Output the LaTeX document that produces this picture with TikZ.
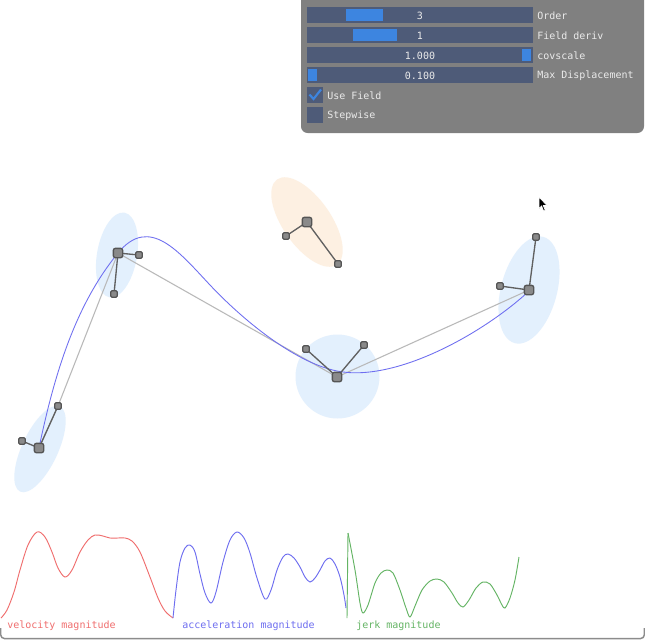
\documentclass[tikz,border=0pt]{standalone}
\usepackage{fontspec}
\newfontfamily\guifont{DejaVu Sans Mono}
\usetikzlibrary{shapes.geometric}
\definecolor{panelgray}{RGB}{128,128,128}
\definecolor{framebg}{RGB}{78,91,120}
\definecolor{grab}{RGB}{61,133,224}
\definecolor{guitext}{RGB}{235,235,235}
\definecolor{covblue}{RGB}{227,240,253}
\definecolor{covorange}{RGB}{253,240,226}
\definecolor{ptfill}{RGB}{138,138,138}
\definecolor{ptdraw}{RGB}{85,85,85}
\definecolor{handleline}{RGB}{96,96,96}
\definecolor{polyline}{RGB}{185,185,185}
\definecolor{curveblue}{RGB}{110,110,240}
\definecolor{velred}{RGB}{240,110,110}
\definecolor{accblue}{RGB}{110,110,240}
\definecolor{jerkgreen}{RGB}{100,180,100}
\definecolor{framegray}{RGB}{140,140,140}
\begin{document}
\begin{tikzpicture}[x=0.75pt,y=-0.75pt,
  cov/.style={ellipse, draw=none, inner sep=0},
  bigpt/.style={draw=ptdraw, fill=ptfill, line width=1pt, rounded corners=1.5pt, minimum size=7pt, inner sep=0},
  smallpt/.style={draw=ptdraw, fill=ptfill, line width=0.9pt, rounded corners=1pt, minimum size=5pt, inner sep=0},
  hline/.style={draw=handleline, line width=1pt},
  bar/.style={fill=framebg},
  grabbox/.style={fill=grab},
  valtext/.style={font=\guifont\fontsize{7.5}{9}\selectfont, text=guitext, inner sep=0},
  lbltext/.style={font=\guifont\fontsize{7.5}{9}\selectfont, text=guitext, inner sep=0, anchor=west},
  plotlbl/.style={font=\guifont\fontsize{7.5}{9}\selectfont, inner sep=0, anchor=west},
  plotline/.style={line width=0.7pt}
]
\useasboundingbox (0,0) rectangle (645,640);
\fill[white] (0,0) rectangle (645,640);

% ---------- GUI panel ----------
\fill[panelgray, rounded corners=5pt] (301,-12) rectangle (644,133);
\fill[bar] (307,7) rectangle (533,23);
\fill[grabbox] (346,9) rectangle (383,21);
\node[valtext] (v1) at (420,15.5) {3};
\node[lbltext] (l1) at (537,15.5) {Order};
\fill[bar] (307,27) rectangle (533,43);
\fill[grabbox] (353,29) rectangle (397,41);
\node[valtext] (v2) at (420,35.5) {1};
\node[lbltext] (l2) at (537,35.5) {Field deriv};
\fill[bar] (307,47) rectangle (533,63);
\fill[grabbox] (522,49) rectangle (531,61);
\node[valtext] (v3) at (420,55.5) {1.000};
\node[lbltext] (l3) at (537,55.5) {covscale};
\fill[bar] (307,67) rectangle (533,83);
\fill[grabbox] (308,69) rectangle (317,81);
\node[valtext] (v4) at (420,75.5) {0.100};
\node[lbltext] (l4) at (537,75.5) {Max Displacement};
\fill[bar] (307,87) rectangle (323,103);
\draw[grab, line width=1.6pt] (309.5,94.5) -- (313.5,99) -- (321,89.5);
\node[lbltext] (l5) at (327,95.5) {Use Field};
\fill[bar] (307,107) rectangle (323,123);
\node[lbltext] (l6) at (327,115.5) {Stepwise};

% ---------- covariance ellipses ----------
\node[cov, fill=covblue, minimum width=70.5pt, minimum height=27pt, rotate=65] (eA) at (40,449) {};
\node[cov, fill=covblue, minimum width=64.5pt, minimum height=30pt, rotate=80] (eB) at (117,255) {};
\node[cov, fill=covorange, minimum width=78pt, minimum height=36pt, rotate=-55] (eC) at (307,222) {};
\node[circle, fill=covblue, minimum size=63pt, inner sep=0] (eD) at (337.5,376.5) {};
\node[cov, fill=covblue, minimum width=82.5pt, minimum height=42pt, rotate=75] (eE) at (529,290) {};

% ---------- point coordinates ----------
\coordinate (pA) at (39,448);
\coordinate (pB) at (118,253);
\coordinate (pC) at (307,222);
\coordinate (pD) at (337,377);
\coordinate (pE) at (529,290);
\coordinate (hA1) at (22,441);
\coordinate (hA2) at (58,406);
\coordinate (hB1) at (139,255);
\coordinate (hB2) at (114,294);
\coordinate (hC1) at (286,236);
\coordinate (hC2) at (338,264);
\coordinate (hD1) at (306,349);
\coordinate (hD2) at (364,345);
\coordinate (hE1) at (536,237);
\coordinate (hE2) at (500,286);
\coordinate (sM) at (210,285);
\coordinate (sD) at (337,371);

% control polygon
\draw[polyline, line width=0.8pt] (pA) -- (hA2) -- (pB) -- (pD) -- (pE);

% spline
\draw[curveblue, line width=0.65pt] (pA)
  .. controls (56,366) and (78,302) .. (pB)
  .. controls (149.5,214.5) and (179,252) .. (sM)
  .. controls (241,318) and (293,362) .. (sD)
  .. controls (396,383) and (485,332) .. (529,291);

% handle lines
\draw[hline] (pA) -- (hA1);
\draw[hline] (pA) -- (hA2);
\draw[hline] (pB) -- (hB1);
\draw[hline] (pB) -- (hB2);
\draw[hline] (pC) -- (hC1);
\draw[hline] (pC) -- (hC2);
\draw[hline] (pD) -- (hD1);
\draw[hline] (pD) -- (hD2);
\draw[hline] (pE) -- (hE1);
\draw[hline] (pE) -- (hE2);

% point squares
\foreach \n in {A,B,C,D,E} { \node[bigpt] (n\n) at (p\n) {}; }
\foreach \n in {A1,A2,B1,B2,C1,C2,D1,D2,E1,E2} { \node[smallpt] (m\n) at (h\n) {}; }

% mouse cursor
\fill[black, draw=white, line width=0.5pt] (539,197) -- (539,208.5) -- (541.6,206) -- (543.6,211) -- (545.2,210.4) -- (543.3,205.5) -- (547,205.5) -- cycle;

% ---------- magnitude plots ----------
\draw[velred, plotline] plot[smooth, tension=0.55] coordinates {
 (1,618) (7,610) (14,592) (20,570) (28,545) (37,532) (45,537) (52,552) (58,568)
 (65,577) (72,570) (80,552) (88,540) (95,535) (103,536) (110,538) (118,538)
 (125,538) (132,541) (140,552) (150,577) (158,598) (165,611) (173,618)};
\draw[accblue, plotline] plot[smooth, tension=0.55] coordinates {
 (173,618) (176,590) (180,562) (185,548) (190,545) (195,552) (200,574) (205,593)
 (211,603) (216,592) (223,562) (230,540) (237,532) (244,538) (250,553) (257,578)
 (265,599) (271,590) (277,570) (283,557) (288,554) (294,558) (300,567) (305,577)
 (310,582) (315,578) (320,570) (325,561) (330,558) (335,564) (340,577) (344,595)
 (346,608)};
\draw[jerkgreen, plotline] (347,618) -- (348,533);
\draw[jerkgreen, plotline] plot[smooth, tension=0.5] coordinates {
 (348,533) (355,570) (360,603) (363,613) (368,605) (375,583) (381,573) (387,570)
 (393,573) (400,590) (406,608) (410,617) (415,606) (422,590) (430,581) (437,579)
 (444,582) (452,593) (458,603) (463,607) (469,600) (476,588) (483,582) (490,584)
 (497,595) (502,605) (505,608) (510,598) (515,580) (519,557)};
\node[plotlbl, text=velred] (tv) at (7,626) {velocity magnitude};
\node[plotlbl, text=accblue] (ta) at (182,626) {acceleration magnitude};
\node[plotlbl, text=jerkgreen] (tj) at (356,626) {jerk magnitude};

% window frame bottom
\draw[framegray, line width=1.1pt, rounded corners=3pt] (0.6,628) -- (0.6,638.6) -- (644.4,638.6) -- (644.4,628);
\end{tikzpicture}
\end{document}
